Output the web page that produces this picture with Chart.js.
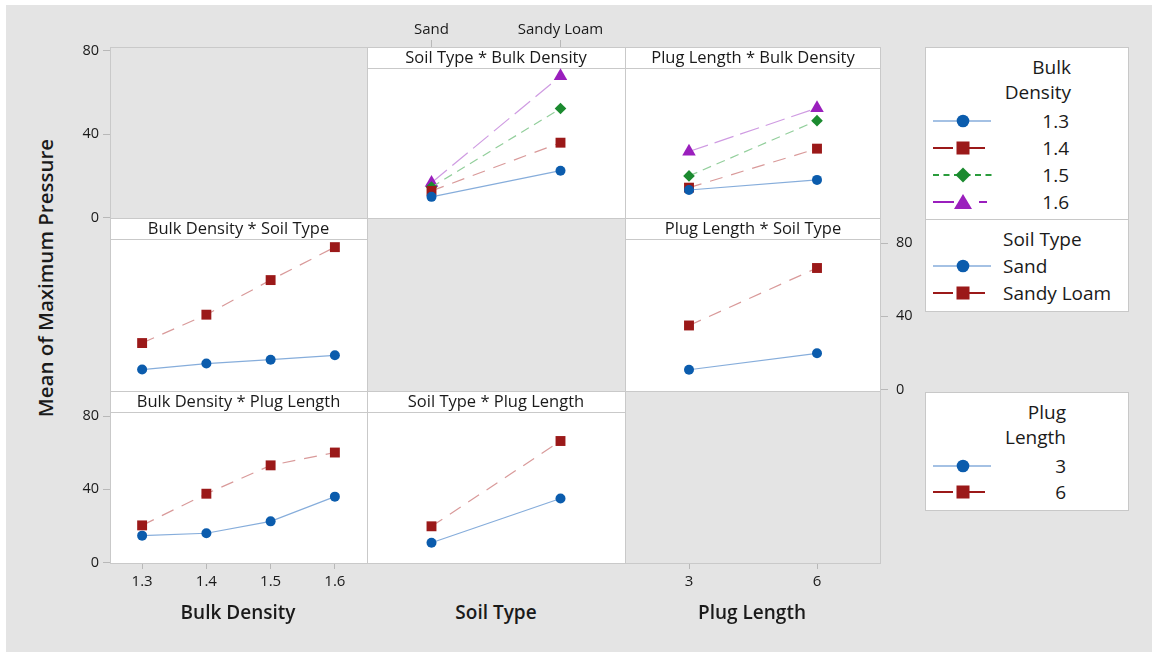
<!DOCTYPE html>
<html>
<head>
<meta charset="utf-8">
<title>Interaction Plot for Mean of Maximum Pressure</title>
<script src="https://cdn.jsdelivr.net/npm/chart.js@4.4.1/dist/chart.umd.min.js"></script>
<style>
  html, body { margin: 0; padding: 0; background: #ffffff; }
  #stage { position: relative; width: 1152px; height: 652px; overflow: hidden; font-family: 'Open Sans', sans-serif; color: #1a1a1a; }
  #bg { position: absolute; left: 6px; top: 5px; width: 1146px; height: 647px; background: #e4e4e4; }
  canvas.cv { position: absolute; }
  .blank { position: absolute; box-sizing: border-box; border-left: 1px solid #c9c9c9; border-top: 1px solid #c9c9c9; }
  .axis-title { position: absolute; font-weight: 600; font-size: 19px; white-space: nowrap; line-height: 1; transform: translate(-50%, -50%); }
  .legend { position: absolute; background: #fff; border: 1px solid #c8c8c8; box-sizing: border-box; }
  .lg-text { position: absolute; font-size: 19px; line-height: 1; white-space: nowrap; transform: translateY(-50%); }
  .lg-key { position: absolute; }
</style>
</head>
<body>
<div id="stage">
  <div id="bg"></div>
</div>
<script>
// Factor levels
const bulkDensity = ['1.3', '1.4', '1.5', '1.6'];
const soilTypes = ['Sand', 'Sandy Loam'];
const plugLengths = ['3', '6'];
const yTicks = [0, 40, 80];

// Mean of maximum pressure for each bulk density, per soil type
const sandByDensity = [10.9, 14.2, 16.3, 18.7];
const sandyLoamByDensity = [25.4, 40.9, 59.8, 77.8];

// Mean of maximum pressure for each bulk density, per plug length
const plug3ByDensity = [14.7, 16.0, 22.5, 36.0];
const plug6ByDensity = [20.3, 37.6, 53.1, 60.1];

// Mean of maximum pressure for each plug length, per soil type
const sandByPlug = [10.8, 19.8];
const sandyLoamByPlug = [35.0, 66.4];

const FONT = "'Open Sans', sans-serif";
const TEXT = '#1a1a1a';
const FRAME = '#c9c9c9';
const TICK = '#b8b8b8';
const STRIP = 22;

// One style per level position: 1st, 2nd, 3rd, 4th level of the trace factor
const styles = [
  { marker: '#0b5cad', line: '#86addb', dash: [],       shape: 'circle',   r: 5,   key: '#86addb' },
  { marker: '#9b1919', line: '#d99a9a', dash: [13, 9],  shape: 'rect',     r: 7,   key: '#9b1919' },
  { marker: '#1b8a2f', line: '#93cf9c', dash: [9, 6],   shape: 'rectRot',  r: 5.8, key: '#2a9c3c' },
  { marker: '#9a1fbd', line: '#cf9be2', dash: [20, 7],  shape: 'triangle', r: 7.8, key: '#9a1fbd' }
];

// Panel frame: white plot panel with a title strip, or a grey empty cell
const panelFrame = {
  id: 'panelFrame',
  beforeDraw(chart, args, opts) {
    const { ctx, chartArea: a } = chart;
    const top = opts.strip ? a.top - STRIP : a.top;
    ctx.save();
    ctx.fillStyle = opts.empty ? '#e4e4e4' : '#ffffff';
    ctx.fillRect(a.left, top, a.right - a.left, a.bottom - top);
    ctx.strokeStyle = FRAME;
    ctx.lineWidth = 1;
    ctx.beginPath();
    ctx.moveTo(a.left + 0.5, a.bottom); ctx.lineTo(a.left + 0.5, top);
    ctx.moveTo(a.left, top + 0.5); ctx.lineTo(a.right, top + 0.5);
    if (opts.right) { ctx.moveTo(a.right - 0.5, top); ctx.lineTo(a.right - 0.5, a.bottom); }
    if (opts.bottom) { ctx.moveTo(a.left, a.bottom - 0.5); ctx.lineTo(a.right, a.bottom - 0.5); }
    if (opts.strip) { ctx.moveTo(a.left, a.top - 0.5); ctx.lineTo(a.right, a.top - 0.5); }
    ctx.stroke();
    ctx.restore();
  }
};

const stage = document.getElementById('stage');

function series(values, i, name) {
  const s = styles[i];
  return {
    label: name,
    data: values,
    borderColor: s.line,
    borderWidth: 1.2,
    borderDash: s.dash,
    tension: 0,
    fill: false,
    clip: false,
    pointStyle: s.shape,
    pointRadius: s.r,
    pointBackgroundColor: s.marker,
    pointBorderColor: s.marker,
    pointBorderWidth: 0
  };
}

function xScale(labels, ax) {
  if (!ax) return { type: 'category', labels, offset: true, display: false };
  return {
    type: 'category', labels, offset: true, display: true, position: ax.position,
    grid: { display: true, drawOnChartArea: false, drawTicks: true, tickLength: ax.tick, color: TICK, offset: false },
    border: { display: false },
    ticks: { font: { family: FONT, size: 15 }, color: TEXT, padding: ax.pad, maxRotation: 0, autoSkip: false },
    afterFit(s) { s.height = ax.size; s.paddingLeft = 0; s.paddingRight = 0; }
  };
}

function yScale(range, ax) {
  const base = { type: 'linear', min: range[0], max: range[1] };
  if (!ax) return Object.assign(base, { display: false });
  return Object.assign(base, {
    display: true, position: ax.position,
    afterBuildTicks(s) { s.ticks = yTicks.map(v => ({ value: v })); },
    grid: { display: true, drawOnChartArea: false, drawTicks: true, tickLength: ax.tick, color: TICK },
    border: { display: false },
    ticks: { font: { family: FONT, size: 14.5 }, color: TEXT, padding: ax.pad },
    afterFit(s) { s.width = ax.size; s.paddingTop = 0; s.paddingBottom = 0; }
  });
}

function panel(p) {
  const cv = document.createElement('canvas');
  cv.className = 'cv';
  cv.width = p.w; cv.height = p.h;
  cv.style.left = p.x + 'px';
  cv.style.top = p.y + 'px';
  stage.appendChild(cv);
  new Chart(cv, {
    type: 'line',
    data: { labels: p.labels, datasets: p.datasets || [] },
    plugins: [panelFrame],
    options: {
      responsive: false,
      animation: false,
      devicePixelRatio: 1,
      events: [],
      layout: { padding: p.padding || 0, autoPadding: false },
      plugins: {
        legend: { display: false },
        tooltip: { enabled: false },
        title: p.title ? {
          display: true, text: p.title, position: 'top', weight: -1, fullSize: false,
          font: { family: FONT, size: 16.5, weight: 'normal', lineHeight: '20px' },
          color: TEXT, padding: { top: 1, bottom: 1 }
        } : { display: false },
        panelFrame: { strip: !!p.title, empty: !!p.empty, right: !!p.right, bottom: !!p.bottom }
      },
      scales: {
        x: xScale(p.labels, p.xAxis),
        y: yScale(p.range || [-0.8, 81.7], p.yAxis)
      }
    }
  });
}

// Row 1 -------------------------------------------------------------
panel({ x: 60, y: 39, w: 307, h: 189, empty: true, labels: bulkDensity,
  padding: { top: 8, bottom: 10 }, range: [-0.15, 81.9],
  yAxis: { position: 'left', size: 50, tick: 7, pad: 4 } });

panel({ x: 367, y: 0, w: 258, h: 218, title: 'Soil Type * Bulk Density', labels: soilTypes,
  xAxis: { position: 'top', size: 47, tick: 7, pad: 1 },
  datasets: bulkDensity.map((d, i) => series([sandByDensity[i], sandyLoamByDensity[i]], i, d)) });

panel({ x: 625, y: 47, w: 256, h: 171, title: 'Plug Length * Bulk Density', labels: plugLengths, right: true,
  datasets: bulkDensity.map((d, i) => series([plug3ByDensity[i], plug6ByDensity[i]], i, d)) });

// Row 2 -------------------------------------------------------------
panel({ x: 110, y: 218, w: 257, h: 173, title: 'Bulk Density * Soil Type', labels: bulkDensity,
  datasets: [series(sandByDensity, 0, soilTypes[0]), series(sandyLoamByDensity, 1, soilTypes[1])] });

panel({ x: 625, y: 218, w: 300, h: 183, title: 'Plug Length * Soil Type', labels: plugLengths, right: true,
  padding: { bottom: 10 },
  yAxis: { position: 'right', size: 44, tick: 7, pad: 8 },
  datasets: [series(sandByPlug, 0, soilTypes[0]), series(sandyLoamByPlug, 1, soilTypes[1])] });

// Row 3 -------------------------------------------------------------
panel({ x: 60, y: 391, w: 307, h: 203, title: 'Bulk Density * Plug Length', labels: bulkDensity, bottom: true,
  yAxis: { position: 'left', size: 50, tick: 7, pad: 4 },
  xAxis: { position: 'bottom', size: 30, tick: 5, pad: 4 },
  datasets: [series(plug3ByDensity, 0, plugLengths[0]), series(plug6ByDensity, 1, plugLengths[1])] });

panel({ x: 367, y: 391, w: 258, h: 173, title: 'Soil Type * Plug Length', labels: soilTypes, bottom: true,
  datasets: [
    series([sandByPlug[0], sandyLoamByPlug[0]], 0, plugLengths[0]),
    series([sandByPlug[1], sandyLoamByPlug[1]], 1, plugLengths[1])
  ] });

panel({ x: 625, y: 391, w: 256, h: 203, empty: true, labels: plugLengths, right: true, bottom: true,
  xAxis: { position: 'bottom', size: 30, tick: 5, pad: 4 } });

// Centre cell (no interaction of a factor with itself)
const blank = document.createElement('div');
blank.className = 'blank';
Object.assign(blank.style, { left: '367px', top: '218px', width: '258px', height: '173px' });
stage.appendChild(blank);

// Axis titles -------------------------------------------------------
function addText(cls, text, css) {
  const d = document.createElement('div');
  d.className = cls;
  d.textContent = text;
  Object.assign(d.style, css);
  stage.appendChild(d);
  return d;
}
addText('axis-title', 'Bulk Density', { left: '238px', top: '612px' });
addText('axis-title', 'Soil Type', { left: '496px', top: '612px' });
addText('axis-title', 'Plug Length', { left: '752px', top: '612px' });
addText('axis-title', 'Mean of Maximum Pressure', { left: '45px', top: '278px', fontSize: '20.5px', transform: 'translate(-50%, -50%) rotate(-90deg)' });

// Legends -----------------------------------------------------------
function box(x, y, w, h) {
  const d = document.createElement('div');
  d.className = 'legend';
  Object.assign(d.style, { left: x + 'px', top: y + 'px', width: w + 'px', height: h + 'px' });
  stage.appendChild(d);
  return d;
}
box(925, 47, 204, 265);
const divider = document.createElement('div');
Object.assign(divider.style, { position: 'absolute', left: '925px', top: '219px', width: '204px', height: '1px', background: '#c8c8c8' });
stage.appendChild(divider);
box(925, 392, 204, 119);

function keyInner(i) {
  const s = styles[i];
  if (i === 0) return `<line x1="3" y1="11" x2="61" y2="11" stroke="${s.key}" stroke-width="1.5"/>` +
    `<circle cx="33" cy="11" r="6.3" fill="${s.marker}"/>`;
  if (i === 1) return `<line x1="3" y1="11" x2="23" y2="11" stroke="${s.key}" stroke-width="2"/>` +
    `<line x1="39" y1="11" x2="55" y2="11" stroke="${s.key}" stroke-width="2"/>` +
    `<rect x="26.5" y="4.5" width="13" height="13" fill="${s.marker}"/>`;
  if (i === 2) return `<line x1="3" y1="11" x2="62" y2="11" stroke="${s.key}" stroke-width="2" stroke-dasharray="6 4.5"/>` +
    `<polygon points="33,3.5 40.5,11 33,18.5 25.5,11" fill="${s.marker}"/>`;
  return `<line x1="3" y1="11" x2="24" y2="11" stroke="${s.key}" stroke-width="2"/>` +
    `<line x1="49" y1="11" x2="57" y2="11" stroke="${s.key}" stroke-width="2"/>` +
    `<polygon points="33,3 42,18 24,18" fill="${s.marker}"/>`;
}
function key(i, cy) {
  const wrap = document.createElement('div');
  wrap.innerHTML = `<svg class="lg-key" xmlns="http://www.w3.org/2000/svg" width="64" height="22" style="left:930px;top:${cy - 11}px">${keyInner(i)}</svg>`;
  stage.appendChild(wrap.firstChild);
}
function rightText(text, xr, cy) { addText('lg-text', text, { right: (1152 - xr) + 'px', top: cy + 'px' }); }
function leftText(text, xl, cy) { addText('lg-text', text, { left: xl + 'px', top: cy + 'px' }); }

rightText('Bulk', 1071, 67);
rightText('Density', 1071, 92);
bulkDensity.forEach((d, i) => { key(i, 121 + i * 27); rightText(d, 1069, 121 + i * 27); });

leftText('Soil Type', 1003, 239);
soilTypes.forEach((t, i) => { key(i, 266 + i * 27); leftText(t, 1003, 266 + i * 27); });

rightText('Plug', 1066, 412);
rightText('Length', 1066, 437);
plugLengths.forEach((p, i) => { key(i, 466 + i * 26); rightText(p, 1066, 466 + i * 26); });
</script>
</body>
</html>
